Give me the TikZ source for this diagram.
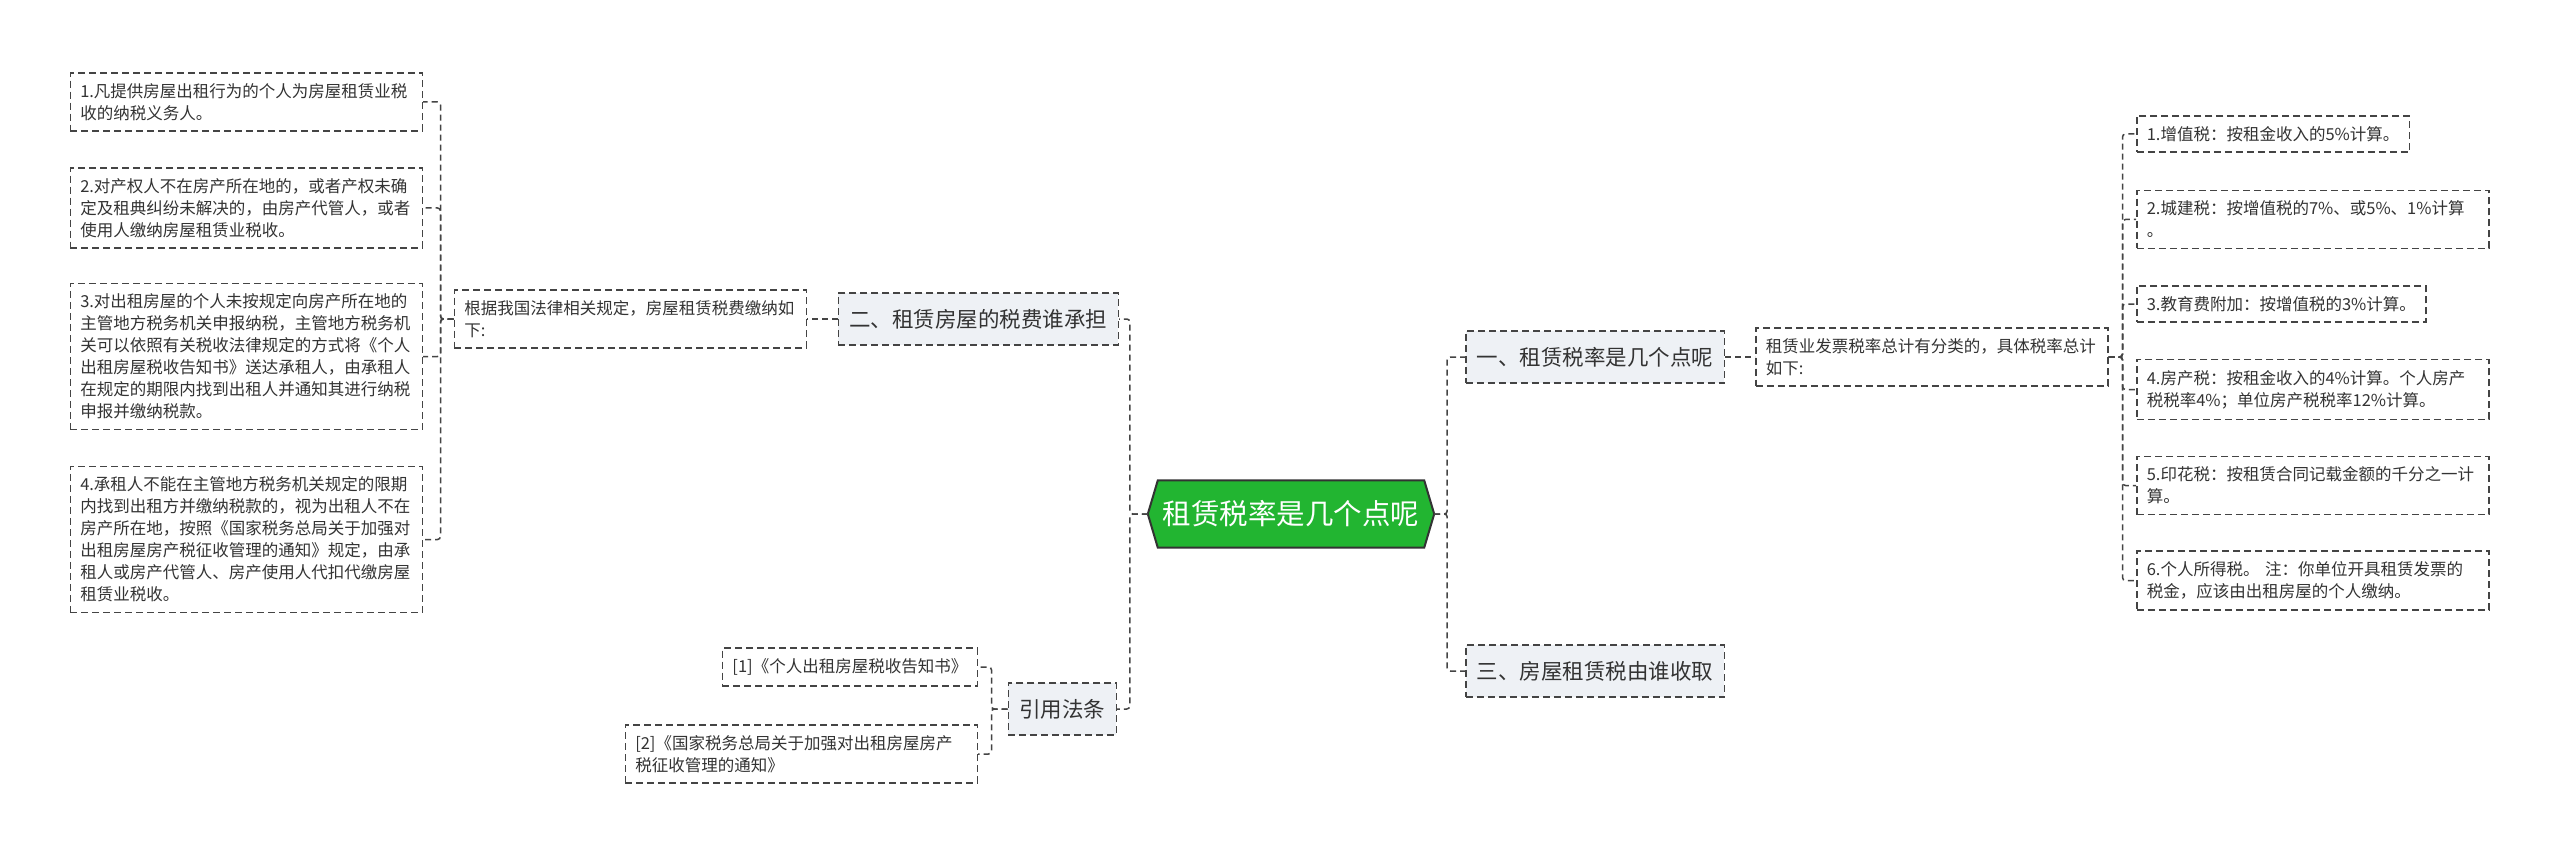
\documentclass[tikz,border=0pt]{standalone}
\usepackage{fontspec}
\setmainfont{Noto Sans CJK SC}
\usetikzlibrary{backgrounds}
\definecolor{hubgreen}{HTML}{22B531}
\definecolor{linegray}{HTML}{444444}
\definecolor{branchfill}{HTML}{EEF1F5}
\definecolor{textgray}{HTML}{333333}
\tikzset{
  link/.style={draw=linegray, line width=1.5pt, dash pattern=on 6pt off 4pt, rounded corners=3pt},
  leaf/.style={draw=linegray, line width=1.5pt, dash pattern=on 7pt off 4pt, fill=white, text=textgray,
    align=left, inner xsep=10pt, inner ysep=10.5pt, font=\fontsize{16.5}{22}\selectfont},
  wide/.style={leaf, text width=332pt},
  branch/.style={draw=linegray, line width=1.5pt, dash pattern=on 7pt off 4pt, fill=branchfill, text=textgray,
    inner xsep=11pt, minimum height=52pt, font=\fontsize{21.5}{26}\selectfont},
  hub/.style={text=white, minimum width=286pt, minimum height=67pt, inner sep=0pt, font=\fontsize{28.5}{34}\selectfont},
}
\begin{document}
\begin{tikzpicture}[x=1pt,y=-1pt]
\useasboundingbox (0,0) rectangle (2560,853);
% centre
\node[hub] (hub) at (1291,514) {租赁税率是几个点呢};
\begin{scope}[on background layer]
\fill[white] (0,0) rectangle (2560,853);
\draw[fill=hubgreen, draw=textgray, line width=2pt] (hub.west) -- ([xshift=10pt]hub.north west) -- ([xshift=-10pt]hub.north east)
  -- (hub.east) -- ([xshift=-10pt]hub.south east) -- ([xshift=10pt]hub.south west) -- cycle;
\end{scope}
% right side
\node[branch, anchor=west] (rate) at (1465,357) {一、租赁税率是几个点呢};
\node[wide, anchor=west] (rateintro) at (1755,357) {租赁业发票税率总计有分类的，具体税率总计\\如下:};
\node[leaf, anchor=west] (vat) at (2136,134) {1.增值税：按租金收入的5\%计算。};
\node[wide, anchor=west] (city) at (2136,219.5) {2.城建税：按增值税的7\%、或5\%、1\%计算\\。};
\node[leaf, anchor=west] (edu) at (2136,304) {3.教育费附加：按增值税的3\%计算。};
\node[wide, anchor=west] (house) at (2136,389.5) {4.房产税：按租金收入的4\%计算。个人房产\\税税率4\%；单位房产税税率12\%计算。};
\node[wide, anchor=west] (stamp) at (2136,485.5) {5.印花税：按租赁合同记载金额的千分之一计\\算。};
\node[wide, anchor=west] (income) at (2136,580.5) {6.个人所得税。 注：你单位开具租赁发票的\\税金，应该由出租房屋的个人缴纳。};
\node[branch, anchor=west] (collect) at (1465,671) {三、房屋租赁税由谁收取};
% left side
\node[branch, anchor=east] (bear) at (1119,319) {二、租赁房屋的税费谁承担};
\node[wide, anchor=east] (lawintro) at (807,319) {根据我国法律相关规定，房屋租赁税费缴纳如\\下:};
\node[wide, anchor=east] (rule1) at (423,102) {1.凡提供房屋出租行为的个人为房屋租赁业税\\收的纳税义务人。};
\node[wide, anchor=east] (rule2) at (423,208) {2.对产权人不在房产所在地的，或者产权未确\\定及租典纠纷未解决的，由房产代管人，或者\\使用人缴纳房屋租赁业税收。};
\node[wide, anchor=east] (rule3) at (423,356.5) {3.对出租房屋的个人未按规定向房产所在地的\\主管地方税务机关申报纳税，主管地方税务机\\关可以依照有关税收法律规定的方式将《个人\\出租房屋税收告知书》送达承租人，由承租人\\在规定的期限内找到出租人并通知其进行纳税\\申报并缴纳税款。};
\node[wide, anchor=east] (rule4) at (423,539.5) {4.承租人不能在主管地方税务机关规定的限期\\内找到出租方并缴纳税款的，视为出租人不在\\房产所在地，按照《国家税务总局关于加强对\\出租房屋房产税征收管理的通知》规定，由承\\租人或房产代管人、房产使用人代扣代缴房屋\\租赁业税收。};
\node[branch, anchor=east] (cite) at (1117,709) {引用法条};
\node[leaf, anchor=east] (ref1) at (978,667) {[1]《个人出租房屋税收告知书》};
\node[wide, anchor=east] (ref2) at (978,754) {[2]《国家税务总局关于加强对出租房屋房产\\税征收管理的通知》};
% connectors
\draw[link] (hub.east) -- +(13,0) |- (rate.west);
\draw[link] (hub.east) -- +(13,0) |- (collect.west);
\draw[link] (rate.east) -- (rateintro.west);
\foreach \n in {vat,city,edu,house,stamp,income}
  \draw[link] (rateintro.east) -- +(14,0) |- (\n.west);
\draw[link] (hub.west) -- +(-18,0) |- (bear.east);
\draw[link] (hub.west) -- +(-18,0) |- (cite.east);
\draw[link] (bear.west) -- (lawintro.east);
\foreach \n in {rule1,rule2,rule3,rule4}
  \draw[link] (lawintro.west) -- +(-13,0) |- (\n.east);
\foreach \n in {ref1,ref2}
  \draw[link] (cite.west) -- +(-16,0) |- (\n.east);
\end{tikzpicture}
\end{document}
